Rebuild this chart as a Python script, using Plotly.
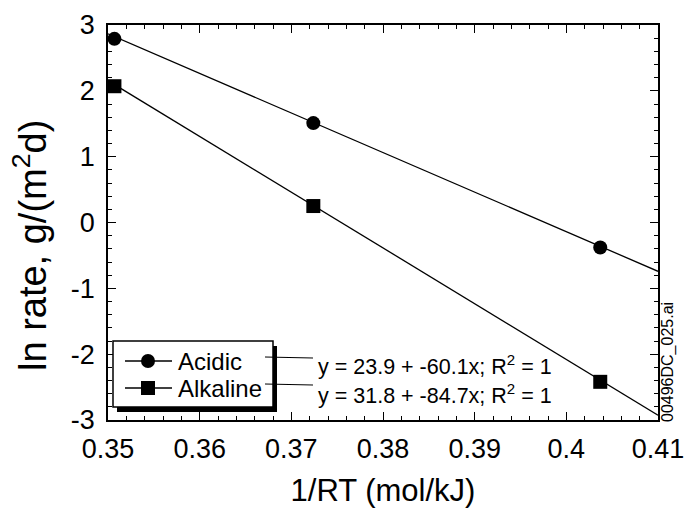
import plotly.graph_objects as go

# ---- data ----
series_names = ["Acidic", "Alkaline"]
inv_rt = [0.3507, 0.3724, 0.4037]            # 1/RT (mol/kJ)
acidic_ln_rate = [2.79, 1.51, -0.38]
alkaline_ln_rate = [2.07, 0.25, -2.42]
fit_intercepts = [23.9, 31.8]
fit_slopes = [-60.1, -84.7]
fit_x_range = [0.35, 0.41]
x_tick_vals = [0.35, 0.36, 0.37, 0.38, 0.39, 0.40, 0.41]
x_tick_text = ["0.35", "0.36", "0.37", "0.38", "0.39", "0.4", "0.41"]
y_tick_vals = [-3, -2, -1, 0, 1, 2, 3]
y_tick_text = ["-3", "-2", "-1", "0", "1", "2", "3"]
fit_labels = ["y = 23.9 + -60.1x; R<sup>2</sup> = 1",
              "y = 31.8 + -84.7x; R<sup>2</sup> = 1"]
x_title = "1/RT (mol/kJ)"
y_title = "ln rate, g/(m<sup>2</sup>d)"
file_tag = "00496DC_025.ai"

FONT = "Liberation Sans, Arial, sans-serif"

# plot-area geometry (pixels)
W, H = 685, 512
L, R, T, B = 108, 658, 25, 420
PW, PH = R - L, B - T


def px(x):
    return (x - L) / PW


def py(y):
    return (B - y) / PH


fig = go.Figure()

symbols = ["circle", "square"]
values = [acidic_ln_rate, alkaline_ln_rate]
for i, name in enumerate(series_names):
    fx = fit_x_range
    fy = [fit_intercepts[i] + fit_slopes[i] * v for v in fx]
    fig.add_trace(go.Scatter(x=fx, y=fy, mode="lines",
                             line=dict(color="black", width=1.3),
                             showlegend=False, hoverinfo="skip"))
    fig.add_trace(go.Scatter(x=inv_rt, y=values[i], mode="markers", name=name,
                             marker=dict(symbol=symbols[i], size=14, color="black"),
                             cliponaxis=False, showlegend=False))

axis_common = dict(showline=True, linecolor="black", linewidth=1.5, mirror="ticks",
                   ticks="inside", ticklen=8, tickwidth=1.3, tickcolor="black",
                   showgrid=False, zeroline=False, automargin=False,
                   tickfont=dict(family=FONT, size=27, color="black"))

fig.update_xaxes(range=[0.35, 0.41], tickvals=x_tick_vals, ticktext=x_tick_text,
                 minor=dict(dtick=0.002, ticks="inside", ticklen=4, tickwidth=1.3,
                            tickcolor="black", showgrid=False),
                 ticklabelstandoff=4,
                 title=dict(text=x_title, font=dict(family=FONT, size=31, color="black"),
                            standoff=16),
                 **axis_common)
fig.update_yaxes(range=[-3, 3], tickvals=y_tick_vals, ticktext=y_tick_text,
                 minor=dict(dtick=0.2, ticks="inside", ticklen=4, tickwidth=1.3,
                            tickcolor="black", showgrid=False),
                 ticklabelstandoff=6,
                 **axis_common)

shapes = []
# legend shadow + box
lx0, ly0, lx1, ly1 = 113, 341, 273, 407
shapes.append(dict(type="rect", xref="paper", yref="paper",
                   x0=px(lx0 + 4), x1=px(lx1 + 4), y0=py(ly1 + 5), y1=py(ly0 + 5),
                   fillcolor="black", line=dict(width=0), layer="above"))
shapes.append(dict(type="rect", xref="paper", yref="paper",
                   x0=px(lx0), x1=px(lx1), y0=py(ly1), y1=py(ly0),
                   fillcolor="white", line=dict(color="black", width=1.5), layer="above"))
rows = [361, 388]
for i, ry in enumerate(rows):
    shapes.append(dict(type="line", xref="paper", yref="paper",
                       x0=px(125), x1=px(172), y0=py(ry), y1=py(ry),
                       line=dict(color="black", width=1.3), layer="above"))
    # connector to the fit label
    shapes.append(dict(type="line", xref="paper", yref="paper",
                       x0=px(265), x1=px(313), y0=py(ry - 4), y1=py(ry - 3),
                       line=dict(color="black", width=1.2), layer="above"))
r = 7
shapes.append(dict(type="circle", xref="paper", yref="paper",
                   x0=px(148 - r), x1=px(148 + r), y0=py(rows[0] + r), y1=py(rows[0] - r),
                   fillcolor="black", line=dict(width=0), layer="above"))
shapes.append(dict(type="rect", xref="paper", yref="paper",
                   x0=px(148 - r), x1=px(148 + r), y0=py(rows[1] + r), y1=py(rows[1] - r),
                   fillcolor="black", line=dict(width=0), layer="above"))

annotations = []
for i, name in enumerate(series_names):
    annotations.append(dict(xref="paper", yref="paper", x=px(176), y=py(rows[i]),
                            xanchor="left", yanchor="middle", showarrow=False,
                            text=name, font=dict(family=FONT, size=24, color="black")))
fit_rows = [365, 394]
for i, t in enumerate(fit_labels):
    annotations.append(dict(xref="paper", yref="paper", x=px(316), y=py(fit_rows[i]),
                            xanchor="left", yanchor="middle", showarrow=False,
                            text=t, font=dict(family=FONT, size=21.5, color="black")))
annotations.append(dict(xref="paper", yref="paper", x=px(668), y=py(362),
                        xanchor="center", yanchor="middle", showarrow=False, textangle=-90,
                        text=file_tag, font=dict(family=FONT, size=16, color="black")))
# y-axis title
annotations.append(dict(xref="paper", yref="paper", x=px(30), y=py(246),
                        xanchor="center", yanchor="middle", showarrow=False, textangle=-90,
                        text=y_title, font=dict(family=FONT, size=38, color="black")))

fig.update_layout(width=W, height=H, margin=dict(l=L, r=W - R, t=T, b=H - B),
                  plot_bgcolor="white", paper_bgcolor="white",
                  shapes=shapes, annotations=annotations, showlegend=False)

fig.write_html("out.html", config={"displayModeBar": False},
               post_script="document.body.style.margin='0';")
